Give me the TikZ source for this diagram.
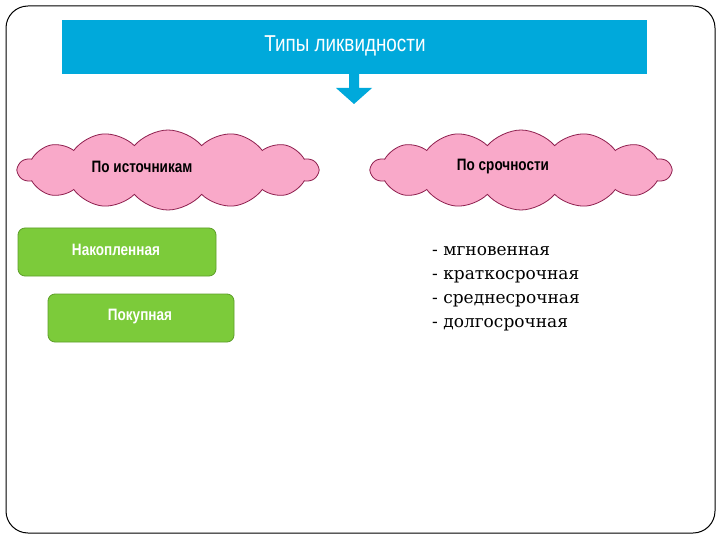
\documentclass[tikz,border=0pt]{standalone}
\usepackage{fontspec}
\setmainfont{Liberation Sans}
\newfontfamily\narrowfont[FakeStretch=0.82]{Liberation Sans}
\newfontfamily\seriffont{DejaVu Serif}
\usetikzlibrary{shapes.symbols}
\definecolor{topblue}{HTML}{00A9DB}
\definecolor{cloudpink}{HTML}{F9A9C9}
\definecolor{cloudline}{HTML}{8E1F4E}
\definecolor{boxgreen}{HTML}{7CCB3A}
\definecolor{boxline}{HTML}{5E9E2A}
\tikzset{
  x=1pt, y=-1pt,
  pinkcloud/.style={cloud, cloud puffs=14, cloud puff arc=100, aspect=3.7,
    draw=cloudline, fill=cloudpink, line width=0.8pt,
    minimum width=300pt, minimum height=80pt, inner sep=0pt},
  cloudtext/.style={font=\narrowfont\bfseries\fontsize{16.5}{18}\selectfont, text=black},
  greenbox/.style={draw=boxline, fill=boxgreen, rounded corners=7pt, line width=0.8pt},
  boxtext/.style={font=\narrowfont\bfseries\fontsize{16.5}{18}\selectfont, text=white},
  listtext/.style={font=\seriffont\fontsize{17}{24}\selectfont, align=left, anchor=north west, inner sep=0pt}
}
\begin{document}
\begin{tikzpicture}
\useasboundingbox (0,0) rectangle (720,540);
\fill[white] (0,0) rectangle (720,540);
% frame
\draw[line width=1pt, rounded corners=22pt] (6,6) rectangle (715,533);
% title bar
\node[fill=topblue, minimum width=585pt, minimum height=54pt, inner sep=0pt] (title) at (354.5,47) {};
\node[text=white, font=\narrowfont\fontsize{23}{25}\selectfont] (titletext) at (345,46) {Типы ликвидности};
% block arrow
\coordinate (atip) at (354,104);
\fill[topblue] (349,74) -- (359,74) -- (359,88) -- (372,88) -- (atip) -- (336,88) -- (349,88) -- cycle;
% clouds
\node[pinkcloud] (c1) at (168,170) {};
\node[cloudtext] (t1) at (142,167) {По источникам};
\node[pinkcloud] (c2) at (521,170) {};
\node[cloudtext] (t2) at (503,167) {По срочности};
% green boxes
\node[greenbox, minimum width=198pt, minimum height=48pt] (g1) at (117,252) {};
\node[boxtext] (g1t) at (116,250) {Накопленная};
\node[greenbox, minimum width=186pt, minimum height=48pt] (g2) at (141,318) {};
\node[boxtext] (g2t) at (140,317) {Покупная};
% list
\node[listtext] (list) at (432,246) {- мгновенная\\- краткосрочная\\- среднесрочная\\- долгосрочная};
\end{tikzpicture}
\end{document}
